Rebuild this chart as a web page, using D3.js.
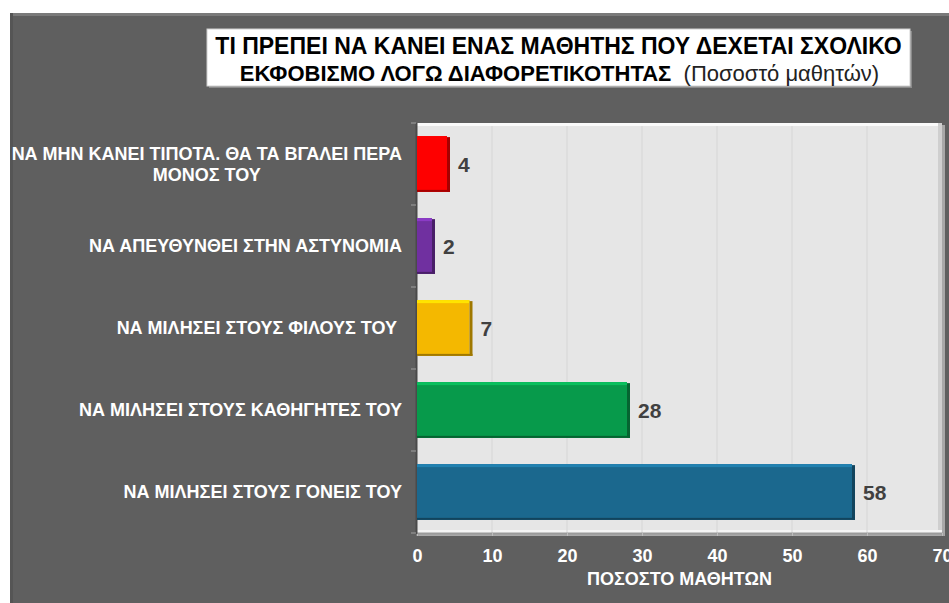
<!DOCTYPE html>
<html>
<head>
<meta charset="utf-8">
<script src="https://cdn.jsdelivr.net/npm/d3@7"></script>
<style>
  html, body { margin: 0; padding: 0; background: #ffffff; }
  svg { display: block; }
  text { font-family: "Liberation Sans", Arial, sans-serif; white-space: pre; }
</style>
</head>
<body>
<svg id="chart" width="949" height="603"></svg>
<script>
// Answers, top to bottom, with the line breaks used in the category labels
const categoryLines = [
  ["ΝΑ ΜΗΝ ΚΑΝΕΙ ΤΙΠΟΤΑ. ΘΑ ΤΑ ΒΓΑΛΕΙ ΠΕΡΑ", "ΜΟΝΟΣ ΤΟΥ"],
  ["ΝΑ ΑΠΕΥΘΥΝΘΕΙ ΣΤΗΝ ΑΣΤΥΝΟΜΙΑ"],
  ["ΝΑ ΜΙΛΗΣΕΙ ΣΤΟΥΣ ΦΙΛΟΥΣ ΤΟΥ "],
  ["ΝΑ ΜΙΛΗΣΕΙ ΣΤΟΥΣ ΚΑΘΗΓΗΤΕΣ ΤΟΥ"],
  ["ΝΑ ΜΙΛΗΣΕΙ ΣΤΟΥΣ ΓΟΝΕΙΣ ΤΟΥ"]
];
const percentages = [4, 2, 7, 28, 58];
const barColors = ["#fe0000", "#7030a0", "#f4b800", "#079a4b", "#1b688e"];
const xTicks = [0, 10, 20, 30, 40, 50, 60, 70];
const titleLine1 = "ΤΙ ΠΡΕΠΕΙ ΝΑ ΚΑΝΕΙ ΕΝΑΣ ΜΑΘΗΤΗΣ ΠΟΥ ΔΕΧΕΤΑΙ ΣΧΟΛΙΚΟ";
const titleLine2Bold = "ΕΚΦΟΒΙΣΜΟ ΛΟΓΩ ΔΙΑΦΟΡΕΤΙΚΟΤΗΤΑΣ";
const titleLine2Plain = "  (Ποσοστό μαθητών)";
const xAxisTitle = "ΠΟΣΟΣΤΟ ΜΑΘΗΤΩΝ";

const svg = d3.select("#chart");
const W = 949, H = 603;
const plot = { left: 417, right: 942, top: 123, bottom: 533 };

const x = d3.scaleLinear().domain([0, 70]).range([plot.left, plot.right]);
const y = d3.scaleBand()
  .domain(d3.range(categoryLines.length))
  .range([plot.top, plot.bottom])
  .paddingInner(0.32)
  .paddingOuter(0.16);

// Dark panel behind the whole chart
svg.append("rect").attr("x", 10).attr("y", 13).attr("width", W - 10).attr("height", H - 13)
  .attr("fill", "#5f5f5f");
svg.append("rect").attr("x", 10).attr("y", 13).attr("width", W - 10).attr("height", 3)
  .attr("fill", "#7a7a7a");
svg.append("rect").attr("x", 10).attr("y", 13).attr("width", 3).attr("height", H - 13)
  .attr("fill", "#555555");

// Title box
const titleBox = { x: 207, y: 29, w: 703, h: 57 };
svg.append("rect")
  .attr("x", titleBox.x + 2).attr("y", titleBox.y + 2)
  .attr("width", titleBox.w).attr("height", titleBox.h)
  .attr("fill", "#8a8a8a");
svg.append("rect")
  .attr("x", titleBox.x).attr("y", titleBox.y)
  .attr("width", titleBox.w).attr("height", titleBox.h)
  .attr("fill", "#ffffff").attr("stroke", "#d0d0d0").attr("stroke-width", 1);
const tcx = titleBox.x + titleBox.w / 2;
svg.append("text")
  .attr("x", tcx).attr("y", 54)
  .attr("text-anchor", "middle")
  .attr("font-size", 23).attr("font-weight", "bold").attr("fill", "#000")
  .text(titleLine1);
const t2 = svg.append("text")
  .attr("x", tcx + 1).attr("y", 81)
  .attr("text-anchor", "middle")
  .attr("font-size", 22).attr("fill", "#000");
t2.append("tspan").attr("font-weight", "bold").text(titleLine2Bold);
t2.append("tspan").attr("font-weight", "normal").attr("fill", "#222").text(titleLine2Plain);

// Plot area with bevelled edges
svg.append("rect")
  .attr("x", plot.left).attr("y", plot.top + 2)
  .attr("width", plot.right - plot.left + 3).attr("height", plot.bottom - plot.top + 1)
  .attr("fill", "#a8a8a8");
svg.append("rect")
  .attr("x", plot.left).attr("y", plot.top)
  .attr("width", plot.right - plot.left).attr("height", plot.bottom - plot.top)
  .attr("fill", "#e6e6e6");
svg.append("rect")
  .attr("x", plot.left).attr("y", plot.top)
  .attr("width", plot.right - plot.left).attr("height", 3)
  .attr("fill", "#fafafa");
svg.append("rect")
  .attr("x", plot.right - 4).attr("y", plot.top)
  .attr("width", 4).attr("height", plot.bottom - plot.top)
  .attr("fill", "#cfcfcf");
svg.append("rect")
  .attr("x", plot.left).attr("y", plot.bottom - 3)
  .attr("width", plot.right - plot.left).attr("height", 3)
  .attr("fill", "#f4f4f4");

// Vertical gridlines
svg.append("g")
  .selectAll("line")
  .data(xTicks.filter(d => d > 0 && d < 70))
  .join("line")
  .attr("x1", d => x(d)).attr("x2", d => x(d))
  .attr("y1", plot.top + 3).attr("y2", plot.bottom)
  .attr("stroke", "#d6d6d6").attr("stroke-width", 1);

// Bottom axis: tick labels under the plot's lower edge
const xAxis = d3.axisBottom(x).tickValues(xTicks).tickSize(3).tickPadding(13);
const gx = svg.append("g")
  .attr("transform", `translate(0,${plot.bottom})`)
  .call(xAxis);
gx.select(".domain").attr("stroke", "#9a9a9a").attr("stroke-width", 2);
gx.selectAll(".tick line").attr("stroke", "#bdbdbd");
gx.selectAll(".tick text")
  .attr("fill", "#ffffff")
  .attr("font-size", 18).attr("font-weight", "bold")
  .attr("font-family", "'Liberation Sans', Arial, sans-serif");

// Left axis line and band ticks
svg.append("line")
  .attr("x1", plot.left - 0.5).attr("x2", plot.left - 0.5)
  .attr("y1", plot.top).attr("y2", plot.bottom + 1)
  .attr("stroke", "#4a4a4a").attr("stroke-width", 2);
const boundaries = d3.range(categoryLines.length + 1).map(i => plot.top + i * (plot.bottom - plot.top) / categoryLines.length);
svg.append("g")
  .selectAll("line")
  .data(boundaries)
  .join("line")
  .attr("x1", plot.left - 6).attr("x2", plot.left - 1)
  .attr("y1", d => d).attr("y2", d => d)
  .attr("stroke", "#a0a0a0").attr("stroke-width", 1);

// Bars with a light top rim and a dark right/bottom rim
const bars = svg.append("g")
  .selectAll("g")
  .data(percentages)
  .join("g");
bars.append("rect")
  .attr("x", plot.left).attr("y", (d, i) => y(i))
  .attr("width", d => x(d) - plot.left).attr("height", y.bandwidth())
  .attr("fill", (d, i) => barColors[i]);
bars.append("rect")
  .attr("x", plot.left).attr("y", (d, i) => y(i))
  .attr("width", d => x(d) - plot.left).attr("height", 3)
  .attr("fill", (d, i) => d3.color(barColors[i]).brighter(0.6));
bars.append("rect")
  .attr("x", d => x(d)).attr("y", (d, i) => y(i) + 1)
  .attr("width", 3).attr("height", y.bandwidth() - 1)
  .attr("fill", (d, i) => d3.color(barColors[i]).darker(1.2));
bars.append("rect")
  .attr("x", plot.left).attr("y", (d, i) => y(i) + y.bandwidth() - 2)
  .attr("width", d => x(d) - plot.left + 3).attr("height", 2)
  .attr("fill", (d, i) => d3.color(barColors[i]).darker(1.2));

// Value labels
bars.append("text")
  .attr("x", d => x(d) + 11)
  .attr("y", (d, i) => y(i) + y.bandwidth() / 2)
  .attr("dy", "0.36em")
  .attr("font-size", 21).attr("font-weight", "bold").attr("fill", "#404040")
  .text(d => d);

// Category labels: each block centred, its right edge aligned next to the axis
const labelRight = 402;
const lineH = 21;
const labelG = svg.append("g");
categoryLines.forEach((lines, i) => {
  const cy = y(i) + y.bandwidth() / 2;
  const t = labelG.append("text")
    .attr("font-size", 18).attr("font-weight", "bold").attr("fill", "#ffffff");
  lines.forEach((ln, j) => {
    t.append("tspan")
      .attr("y", cy + (j - (lines.length - 1) / 2) * lineH)
      .attr("dy", "0.36em")
      .text(ln);
  });
  const spans = t.selectAll("tspan").nodes();
  const wMax = d3.max(spans, s => s.getComputedTextLength());
  t.attr("text-anchor", "middle");
  t.selectAll("tspan").attr("x", labelRight - wMax / 2);
});

// Axis title
svg.append("text")
  .attr("x", (plot.left + plot.right) / 2).attr("y", 585)
  .attr("text-anchor", "middle")
  .attr("font-size", 18).attr("font-weight", "bold").attr("fill", "#ffffff")
  .text(xAxisTitle);
</script>
</body>
</html>
